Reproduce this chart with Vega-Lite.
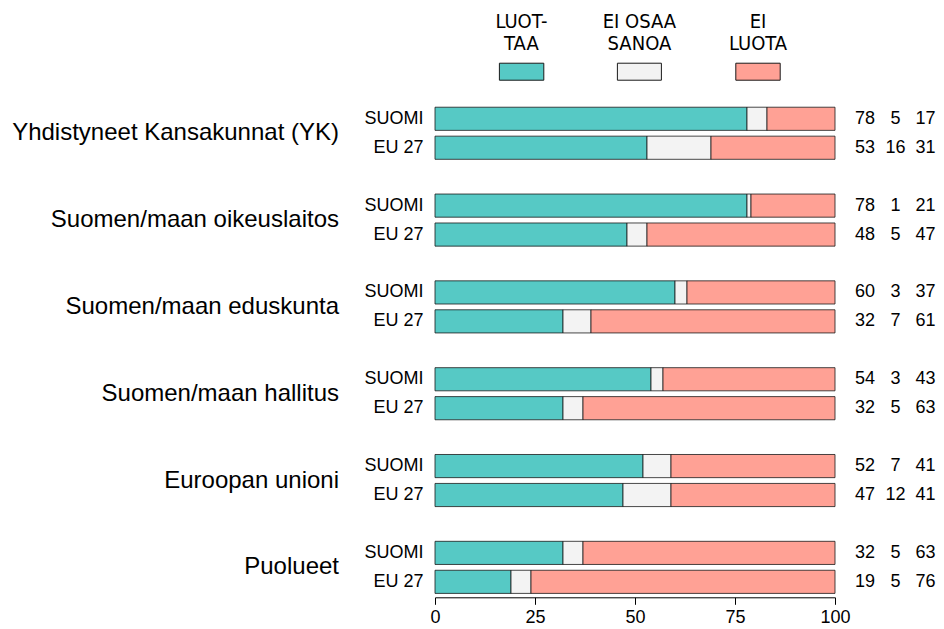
{
  "$schema": "https://vega.github.io/schema/vega-lite/v6.json",
  "autosize": {"type": "none"},
  "width": 400,
  "height": 578.8,
  "padding": {"left": 435, "top": 17.5, "right": 109, "bottom": 32.7},
  "background": "white",
  "config": {"view": {"stroke": null}, "font": "Liberation Sans"},
  "data": {"values": [
    {"group": "Yhdistyneet Kansakunnat (YK)", "area": "SUOMI", "LUOTTAA": 78, "EI OSAA SANOA": 5, "EI LUOTA": 17},
    {"group": "Yhdistyneet Kansakunnat (YK)", "area": "EU 27", "LUOTTAA": 53, "EI OSAA SANOA": 16, "EI LUOTA": 31},
    {"group": "Suomen/maan oikeuslaitos", "area": "SUOMI", "LUOTTAA": 78, "EI OSAA SANOA": 1, "EI LUOTA": 21},
    {"group": "Suomen/maan oikeuslaitos", "area": "EU 27", "LUOTTAA": 48, "EI OSAA SANOA": 5, "EI LUOTA": 47},
    {"group": "Suomen/maan eduskunta", "area": "SUOMI", "LUOTTAA": 60, "EI OSAA SANOA": 3, "EI LUOTA": 37},
    {"group": "Suomen/maan eduskunta", "area": "EU 27", "LUOTTAA": 32, "EI OSAA SANOA": 7, "EI LUOTA": 61},
    {"group": "Suomen/maan hallitus", "area": "SUOMI", "LUOTTAA": 54, "EI OSAA SANOA": 3, "EI LUOTA": 43},
    {"group": "Suomen/maan hallitus", "area": "EU 27", "LUOTTAA": 32, "EI OSAA SANOA": 5, "EI LUOTA": 63},
    {"group": "Euroopan unioni", "area": "SUOMI", "LUOTTAA": 52, "EI OSAA SANOA": 7, "EI LUOTA": 41},
    {"group": "Euroopan unioni", "area": "EU 27", "LUOTTAA": 47, "EI OSAA SANOA": 12, "EI LUOTA": 41},
    {"group": "Puolueet", "area": "SUOMI", "LUOTTAA": 32, "EI OSAA SANOA": 5, "EI LUOTA": 63},
    {"group": "Puolueet", "area": "EU 27", "LUOTTAA": 19, "EI OSAA SANOA": 5, "EI LUOTA": 76}
  ]},
  "transform": [{"calculate": "datum.group + '|' + datum.area", "as": "key"}],
  "encoding": {
    "y": {
      "field": "key",
      "type": "nominal",
      "scale": {
        "domain": [
          "leg1", "leg2", "leg3",
          "Yhdistyneet Kansakunnat (YK)|SUOMI", "Yhdistyneet Kansakunnat (YK)|EU 27", "gap1",
          "Suomen/maan oikeuslaitos|SUOMI", "Suomen/maan oikeuslaitos|EU 27", "gap2",
          "Suomen/maan eduskunta|SUOMI", "Suomen/maan eduskunta|EU 27", "gap3",
          "Suomen/maan hallitus|SUOMI", "Suomen/maan hallitus|EU 27", "gap4",
          "Euroopan unioni|SUOMI", "Euroopan unioni|EU 27", "gap5",
          "Puolueet|SUOMI", "Puolueet|EU 27"
        ],
        "paddingInner": 0.2,
        "paddingOuter": 0.1
      },
      "axis": {
        "title": null,
        "domain": false,
        "ticks": false,
        "labelPadding": 12,
        "labelFontSize": 18,
        "labelColor": "black",
        "labelExpr": "indexof(datum.value, '|') >= 0 ? split(datum.value, '|')[1] : ''"
      }
    }
  },
  "layer": [
    {
      "transform": [{"fold": ["LUOTTAA", "EI OSAA SANOA", "EI LUOTA"], "as": ["series", "value"]}],
      "mark": {"type": "bar", "stroke": "#1a1a1a", "strokeWidth": 0.8},
      "encoding": {
        "x": {
          "field": "value",
          "type": "quantitative",
          "stack": "zero",
          "scale": {"domain": [0, 100], "nice": false},
          "axis": {
            "values": [0, 25, 50, 75, 100],
            "title": null,
            "grid": false,
            "domainColor": "black",
            "tickColor": "black",
            "tickSize": 7,
            "labelFontSize": 18,
            "labelColor": "black",
            "labelFlush": false,
            "labelOverlap": false,
            "offset": 1,
            "labelPadding": 4
          }
        },
        "color": {
          "field": "series",
          "type": "nominal",
          "scale": {"domain": ["LUOTTAA", "EI OSAA SANOA", "EI LUOTA"], "range": ["#56C9C5", "#F3F3F3", "#FFA195"]},
          "legend": null
        },
        "order": {"field": "series", "sort": "descending"}
      }
    },
    {
      "transform": [{"filter": "datum.area === 'SUOMI'"}],
      "mark": {"type": "text", "align": "right", "baseline": "middle", "fontSize": 24, "yOffset": 14.5, "color": "black"},
      "encoding": {"x": {"datum": -24}, "text": {"field": "group"}}
    },
    {
      "mark": {"type": "text", "align": "center", "baseline": "middle", "fontSize": 18, "color": "black"},
      "encoding": {"x": {"datum": 107.5}, "text": {"field": "LUOTTAA"}}
    },
    {
      "mark": {"type": "text", "align": "center", "baseline": "middle", "fontSize": 18, "color": "black"},
      "encoding": {"x": {"datum": 115.1}, "text": {"field": "EI OSAA SANOA"}}
    },
    {
      "mark": {"type": "text", "align": "center", "baseline": "middle", "fontSize": 18, "color": "black"},
      "encoding": {"x": {"datum": 122.6}, "text": {"field": "EI LUOTA"}}
    },
    {
      "data": {"values": [{}]},
      "mark": {"type": "text", "align": "center", "baseline": "middle", "fontSize": 20, "lineHeight": 21.7, "yOffset": -10, "font": "Liberation Sans Narrow, Arial Narrow, DejaVu Sans Condensed, Liberation Sans", "color": "black"},
      "encoding": {"x": {"datum": 21.6}, "y": {"datum": "leg1"}, "text": {"value": ["LUOT-", "TAA"]}}
    },
    {
      "data": {"values": [{}]},
      "mark": {"type": "text", "align": "center", "baseline": "middle", "fontSize": 20, "lineHeight": 21.7, "yOffset": -10, "font": "Liberation Sans Narrow, Arial Narrow, DejaVu Sans Condensed, Liberation Sans", "color": "black"},
      "encoding": {"x": {"datum": 51.1}, "y": {"datum": "leg1"}, "text": {"value": ["EI OSAA", "SANOA"]}}
    },
    {
      "data": {"values": [{}]},
      "mark": {"type": "text", "align": "center", "baseline": "middle", "fontSize": 20, "lineHeight": 21.7, "yOffset": -10, "font": "Liberation Sans Narrow, Arial Narrow, DejaVu Sans Condensed, Liberation Sans", "color": "black"},
      "encoding": {"x": {"datum": 80.75}, "y": {"datum": "leg1"}, "text": {"value": ["EI", "LUOTA"]}}
    },
    {
      "data": {"values": [{}]},
      "mark": {"type": "bar", "height": 17, "yOffset": 10.8, "stroke": "#1a1a1a", "strokeWidth": 1, "color": "#56C9C5"},
      "encoding": {"x": {"datum": 16.1}, "x2": {"datum": 27.2}, "y": {"datum": "leg2"}}
    },
    {
      "data": {"values": [{}]},
      "mark": {"type": "bar", "height": 17, "yOffset": 10.8, "stroke": "#1a1a1a", "strokeWidth": 1, "color": "#F3F3F3"},
      "encoding": {"x": {"datum": 45.6}, "x2": {"datum": 56.6}, "y": {"datum": "leg2"}}
    },
    {
      "data": {"values": [{}]},
      "mark": {"type": "bar", "height": 17, "yOffset": 10.8, "stroke": "#1a1a1a", "strokeWidth": 1, "color": "#FFA195"},
      "encoding": {"x": {"datum": 75.2}, "x2": {"datum": 86.3}, "y": {"datum": "leg2"}}
    }
  ]
}
